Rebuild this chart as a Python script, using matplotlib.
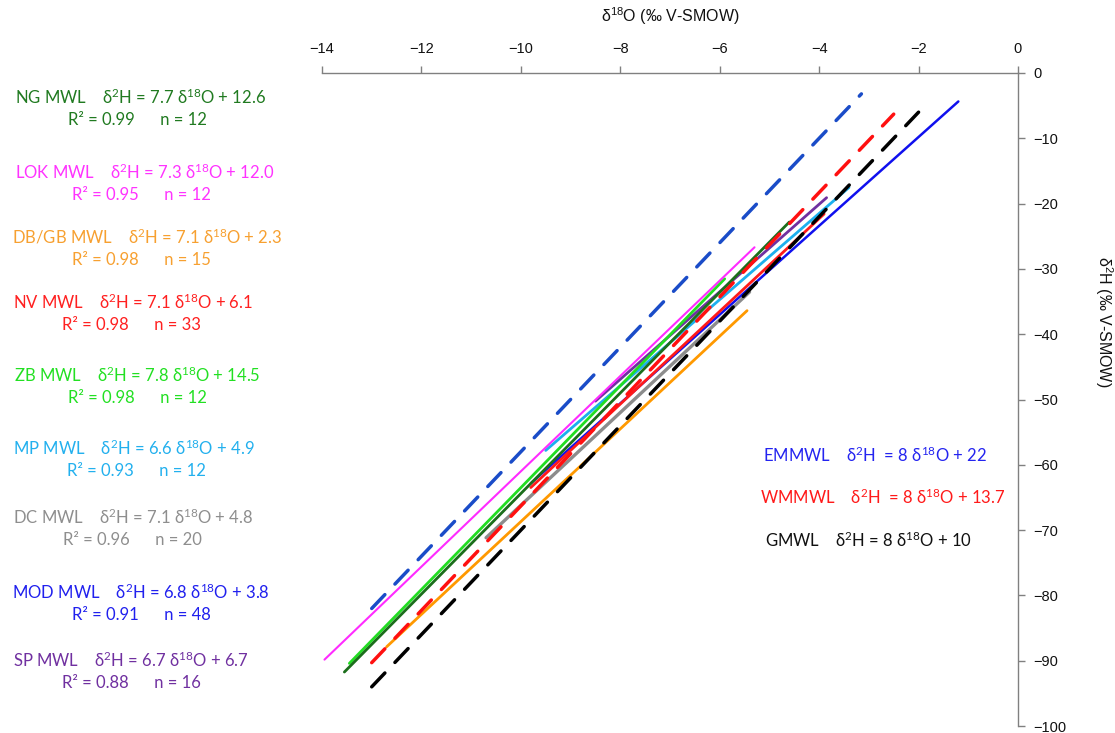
import matplotlib
matplotlib.use("Agg")
import matplotlib.pyplot as plt
import numpy as np

# Local meteoric water lines: name, slope, intercept, x-range, R², n
lmwl_names = ["NG", "LOK", "DB/GB", "NV", "ZB", "MP", "DC", "MOD", "SP"]
lmwl_slopes = [7.7, 7.3, 7.1, 7.1, 7.8, 6.6, 7.1, 6.8, 6.7]
lmwl_intercepts = [12.6, 12.0, 2.3, 6.1, 14.5, 4.9, 4.8, 3.8, 6.7]
lmwl_r2 = ["0.99", "0.95", "0.98", "0.98", "0.98", "0.93", "0.96", "0.91", "0.88"]
lmwl_n = [12, 12, 15, 33, 12, 12, 20, 48, 16]
lmwl_xmin = [-13.55, -13.95, -12.7, -9.8, -13.45, -9.5, -10.7, -9.8, -8.5]
lmwl_xmax = [-4.6, -5.3, -5.45, -3.9, -5.9, -3.4, -5.4, -1.2, -3.85]

# Reference lines (global / Mediterranean)
ref_names = ["EMMWL", "WMMWL", "GMWL"]
ref_slopes = [8, 8, 8]
ref_intercepts = [22, 13.7, 10]
ref_xmin = [-13.0, -13.0, -13.0]
ref_xmax = [-3.15, -2.5, -2.0]

x_ticks = [-14, -12, -10, -8, -6, -4, -2, 0]
y_ticks = [0, -10, -20, -30, -40, -50, -60, -70, -80, -90, -100]

lmwl_line_colors = {"NG": "#1b6e1b", "LOK": "#ff2bff", "DB/GB": "#ff9900",
                    "NV": "#ff1a1a", "ZB": "#22dd22", "MP": "#1cb0ee",
                    "DC": "#8c8c8c", "MOD": "#1010ee", "SP": "#7030a0"}
lmwl_text_colors = {"NG": "#207a20", "LOK": "#ff33ff", "DB/GB": "#f7a030",
                    "NV": "#ff2020", "ZB": "#22e022", "MP": "#22b0ee",
                    "DC": "#8e8e8e", "MOD": "#2020ee", "SP": "#7030a0"}
lmwl_widths = {"NG": 2.0, "LOK": 1.5, "DB/GB": 2.0, "NV": 2.0, "ZB": 2.0,
               "MP": 2.0, "DC": 2.4, "MOD": 1.8, "SP": 2.0}
ref_line_colors = {"EMMWL": "#1a4cc8", "WMMWL": "#ff1010", "GMWL": "#000000"}
ref_text_colors = {"EMMWL": "#2424f0", "WMMWL": "#ff1a1a", "GMWL": "#111111"}

W, H = 1115, 733
fig = plt.figure(figsize=(W / 100, H / 100), dpi=100)
ax_l, ax_r, ax_t, ax_b = 322, 1018, 73, 726
ax = fig.add_axes([ax_l / W, 1 - ax_b / H, (ax_r - ax_l) / W, (ax_b - ax_t) / H])
ax.set_xlim(-14, 0)
ax.set_ylim(-100, 0)

# draw order: local lines first, reference lines on top
draw_order = ["DC", "DB/GB", "MP", "MOD", "SP", "NV", "ZB", "NG", "LOK"]
for name in draw_order:
    i = lmwl_names.index(name)
    xs = np.array([lmwl_xmin[i], lmwl_xmax[i]])
    ys = lmwl_slopes[i] * xs + lmwl_intercepts[i]
    ax.plot(xs, ys, color=lmwl_line_colors[name], lw=lmwl_widths[name],
            solid_capstyle="round", zorder=2)

for i, name in enumerate(ref_names):
    xs = np.array([ref_xmin[i], ref_xmax[i]])
    ys = ref_slopes[i] * xs + ref_intercepts[i]
    ax.plot(xs, ys, color=ref_line_colors[name], lw=2.5, ls=(0, (5.5, 4.2)),
            dash_capstyle="round", zorder=3)

# axes styling: x axis on top, y axis on the right
axis_grey = "#808080"
for side in ("left", "bottom"):
    ax.spines[side].set_visible(False)
for side in ("top", "right"):
    ax.spines[side].set_color(axis_grey)
    ax.spines[side].set_linewidth(1.0)
ax.xaxis.tick_top()
ax.yaxis.tick_right()
ax.set_xticks(x_ticks)
ax.set_yticks(y_ticks)
tick_font = {"family": ["Liberation Sans", "DejaVu Sans"], "size": 10.5}
label_font = {"family": ["Liberation Sans", "DejaVu Sans"], "size": 11.5}
ax.set_xticklabels([f"\u2212{abs(v)}" if v < 0 else str(v) for v in x_ticks], fontdict=tick_font)
ax.set_yticklabels([f"\u2212{abs(v)}" if v < 0 else str(v) for v in y_ticks], fontdict=tick_font)
ax.tick_params(axis="both", direction="out", length=5, width=1.0, color=axis_grey,
               labelcolor="#111111")
ax.tick_params(axis="x", pad=7)
ax.tick_params(axis="y", pad=6)
ax.xaxis.set_label_position("top")
ax.yaxis.set_label_position("right")
ax.set_xlabel("δ$\\mathregular{^{18}}$O (‰ V-SMOW)", fontdict=label_font, color="#111111")
ax.set_ylabel("δ$\\mathregular{^{2}}$H (‰ V-SMOW)", fontdict=label_font, color="#111111",
              rotation=-90, va="center")
ax.xaxis.set_label_coords(0.5, (ax_b - 22) / (ax_b - ax_t))
ax.yaxis.set_label_coords((1104 - ax_l) / (ax_r - ax_l), (ax_b - 322) / (ax_b - ax_t))

# equation annotations
ann_font = ["Lato", "DejaVu Sans"]
ann_size = 12

def eq_text(name, slope, icpt):
    return (f"{name}    δ$\\mathregular{{^2}}$H = {slope} "
            f"δ$\\mathregular{{^{{18}}}}$O + {icpt}")

line1_y = [97, 172, 237, 302, 375, 448, 517, 592, 660]
line1_x = [15, 15, 12, 13, 14, 13, 13, 12, 13]
line2_x = [68, 72, 72, 62, 68, 67, 63, 72, 62]
line2_gap = 23
for i, name in enumerate(lmwl_names):
    col = lmwl_text_colors[name]
    fig.text(line1_x[i] / W, 1 - line1_y[i] / H,
             eq_text(f"{name} MWL", lmwl_slopes[i], f"{lmwl_intercepts[i]:.1f}"),
             color=col, family=ann_font, size=ann_size, ha="left", va="center")
    fig.text(line2_x[i] / W, 1 - (line1_y[i] + line2_gap) / H,
             f"R² = {lmwl_r2[i]}      n = {lmwl_n[i]}",
             color=col, family=ann_font, size=ann_size, ha="left", va="center")

ref_label_y = [455, 497, 540]
ref_label_x = [763, 760, 765]
ref_icpt_text = ["22", "13.7", "10"]
ref_eq_gap = ["  ", "  ", " "]
for i, name in enumerate(ref_names):
    fig.text(ref_label_x[i] / W, 1 - ref_label_y[i] / H,
             f"{name}    δ$\\mathregular{{^2}}$H{ref_eq_gap[i]}= {ref_slopes[i]} "
             f"δ$\\mathregular{{^{{18}}}}$O + {ref_icpt_text[i]}",
             color=ref_text_colors[name], family=ann_font, size=ann_size,
             ha="left", va="center")

fig.savefig("out.png", dpi=100)
